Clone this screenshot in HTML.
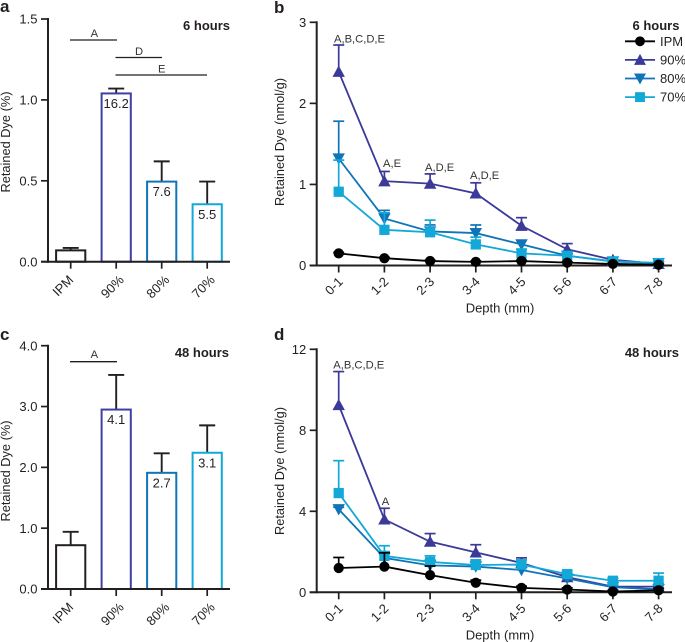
<!DOCTYPE html>
<html>
<head>
<meta charset="utf-8">
<style>
html,body{margin:0;padding:0;background:#fff;width:685px;height:642px;overflow:hidden}
svg{display:block;font-family:"Liberation Sans",Arial,sans-serif;fill:#231f20;filter:blur(0.3px)}
text{fill:#231f20}
.t{font-size:13px}
.a{font-size:12.8px}
.x{font-size:13px}
.n{font-size:11.2px;fill:#333}
.p{font-size:17px;font-weight:bold}
.h{font-size:13px;font-weight:bold}
</style>
</head>
<body>
<svg id="fig" width="685" height="642" viewBox="0 0 685 642" xmlns="http://www.w3.org/2000/svg">
  <text class="p" x="0" y="12">a</text>
  <text class="p" x="274" y="13">b</text>
  <text class="p" x="0" y="340">c</text>
  <text class="p" x="274" y="340">d</text>

  <text class="h" x="230" y="30" text-anchor="end">6 hours</text>
  <text class="h" x="229" y="357" text-anchor="end">48 hours</text>
  <text class="h" x="679" y="357" text-anchor="end">48 hours</text>

  <g stroke="#231f20" stroke-width="1.3">
    <line x1="70" x2="117" y1="40" y2="40"/>
    <line x1="115.5" x2="162" y1="57.5" y2="57.5"/>
    <line x1="115.5" x2="207" y1="75" y2="75"/>
  </g>
  <text class="n" x="94.3" y="37" text-anchor="middle">A</text>
  <text class="n" x="139" y="55" text-anchor="middle">D</text>
  <text class="n" x="161.7" y="72.5" text-anchor="middle">E</text>

  <line x1="70" x2="117" y1="361.7" y2="361.7" stroke="#231f20" stroke-width="1.3"/>
  <text class="n" x="94.3" y="358" text-anchor="middle">A</text>

  <text class="n" x="334" y="42.5">A,B,C,D,E</text>
  <text class="n" x="383" y="167">A,E</text>
  <text class="n" x="425" y="171">A,D,E</text>
  <text class="n" x="470" y="179">A,D,E</text>
  <text class="n" x="333.3" y="368.5">A,B,C,D,E</text>
  <text class="n" x="381.7" y="505">A</text>

  <g>
    <text class="h" x="656" y="30" text-anchor="middle">6 hours</text>
    <g id="legend-items"></g>
  </g>
</svg>
<script>
// Shared categories
const barCategories = ['IPM', '90%', '80%', '70%'];
const depthCategories = ['0-1', '1-2', '2-3', '3-4', '4-5', '5-6', '6-7', '7-8'];
const seriesNames = ['IPM', '90%', '80%', '70%'];

// Panel a values
const aMeans = [0.07, 1.04, 0.495, 0.355];
const aErrTops = [0.085, 1.07, 0.62, 0.495];
const aBarLabels = ['', '16.2', '7.6', '5.5'];
const aTicks = ['0.0', '0.5', '1.0', '1.5'];

// Panel c values
const cMeans = [0.72, 2.95, 1.91, 2.24];
const cErrTops = [0.94, 3.52, 2.23, 2.69];
const cBarLabels = ['', '4.1', '2.7', '3.1'];
const cTicks = ['0.0', '1.0', '2.0', '3.0', '4.0'];

// Panel b values
const bIPM = [0.15, 0.09, 0.055, 0.045, 0.055, 0.035, 0.02, 0.01];
const bIPMTop = [0.16, 0.1, 0.065, 0.055, 0.065, 0.045, 0.03, 0.02];
const b90 = [2.39, 1.04, 1.01, 0.89, 0.49, 0.2, 0.07, 0.02];
const b90Top = [2.72, 1.16, 1.13, 1.02, 0.59, 0.27, 0.1, 0.04];
const b80 = [1.32, 0.58, 0.42, 0.4, 0.26, 0.12, 0.05, 0.03];
const b80Top = [1.78, 0.68, 0.5, 0.5, 0.31, 0.14, 0.07, 0.05];
const b70 = [0.91, 0.44, 0.41, 0.26, 0.15, 0.12, 0.05, 0.03];
const b70Top = [1.3, 0.65, 0.56, 0.35, 0.2, 0.15, 0.07, 0.06];
const bTicks = ['0', '1', '2', '3'];

// Panel d values
const dIPM = [1.2, 1.27, 0.85, 0.47, 0.22, 0.14, 0.04, 0.1];
const dIPMTop = [1.72, 1.95, 1.3, 0.6, 0.3, 0.22, 0.1, 0.2];
const d90 = [9.25, 3.6, 2.5, 1.97, 1.45, 0.75, 0.28, 0.28];
const d90Top = [10.9, 4.15, 2.9, 2.35, 1.7, 0.9, 0.35, 0.4];
const d80 = [4.1, 1.7, 1.33, 1.27, 1.1, 0.68, 0.25, 0.15];
const d80Top = [4.2, 2.0, 1.6, 1.5, 1.3, 0.8, 0.3, 0.2];
const d70 = [4.9, 1.8, 1.5, 1.35, 1.37, 0.9, 0.57, 0.57];
const d70Top = [6.5, 2.3, 1.8, 1.6, 1.6, 1.05, 0.7, 0.95];
const dTicks = ['0', '4', '8', '12'];

const INK = '#231f20';
const COLORS = {'IPM': '#000000', '90%': '#3b3a98', '80%': '#0f75b8', '70%': '#12a8d8'};
const BAR_COLORS = {'IPM': '#231f20', '90%': '#3f3fa5', '80%': '#0f75b8', '70%': '#12a8d8'};
const svg = document.getElementById('fig');
const NS = 'http://www.w3.org/2000/svg';

function mk(tag, parent, attrs, text) {
  const el = document.createElementNS(NS, tag);
  for (const k in attrs) el.setAttribute(k, attrs[k]);
  if (text !== undefined) el.textContent = text;
  parent.appendChild(el);
  return el;
}

function drawAxes(g, o) {
  const yl = mk('line', g, {x1: o.x0, x2: o.x0, y1: o.yScale(o.yMax) - 1, y2: o.y0 + 1, stroke: INK, 'stroke-width': 2});
  
  
  const xl = mk('line', g, {x1: o.x0 - 7, x2: o.xEnd, y1: o.y0, y2: o.y0, stroke: INK, 'stroke-width': 2});
  
  

  o.ticks.forEach(function (t) {
    const y = o.yScale(parseFloat(t));
    const tk = mk('line', g, {x1: o.x0 - 7, x2: o.x0, y1: y, y2: y, stroke: INK, 'stroke-width': 1.7});
    
    
    const lb = mk('text', g, {x: o.x0 - 10.5, y: y + 4.6, 'text-anchor': 'end', 'class': 't'}, t);
    
    
  });

  o.cats.forEach(function (c, i) {
    const x = o.xScale(i);
    const tk = mk('line', g, {x1: x, x2: x, y1: o.y0, y2: o.y0 + 7, stroke: INK, 'stroke-width': 1.7});
    
    
    const lx = x + (c === 'IPM' ? 3.5 : o.labelDx), ly = o.y0 + o.labelDy;
    const lb = mk('text', g, {x: lx, y: ly, 'text-anchor': 'end', 'class': 't', transform: 'rotate(-45 ' + lx + ' ' + ly + ')'}, c);
    
    
  });

  const ty = mk('text', g, {x: 0, y: 0, 'text-anchor': 'middle', 'class': 'a', transform: 'translate(' + o.titleX + ' ' + o.titleY + ') rotate(-90)'}, o.yTitle);
  
  
  if (o.xTitle) {
    const tx = mk('text', g, {x: o.xTitleX, y: o.y0 + 47, 'text-anchor': 'middle', 'class': 'x'}, o.xTitle);
    
    
  }
}

function barPanel(name, means, tops, labels, ticks, yMax, y0, yTop, yTitle, titleY) {
  const g = mk('g', svg, {});
  
  
  const yScale = function (v) { return y0 - (y0 - yTop) * v / yMax; };
  const xScale = function (i) { return 70.7 + i * 45.5; };
  barCategories.forEach(function (c, i) {
    const x = xScale(i), top = yScale(means[i]), et = yScale(tops[i]);
    const e1 = mk('line', g, {x1: x, x2: x, y1: et, y2: top, stroke: INK, 'stroke-width': 1.9});
    
    
    const e2 = mk('line', g, {x1: x - 8, x2: x + 8, y1: et, y2: et, stroke: INK, 'stroke-width': 1.9});
    
    
    const r = mk('rect', g, {x: x - 14.6, y: top, width: 29.2, height: y0 - top, fill: '#fff', stroke: BAR_COLORS[c], 'stroke-width': 2});
    
    
    if (labels[i]) {
      const t = mk('text', g, {x: x, y: top + 14.5, 'text-anchor': 'middle', 'class': 't'}, labels[i]);
      
      
    }
  });
  drawAxes(g, {x0: 48, y0: y0, xEnd: 230, yMax: yMax, yScale: yScale, xScale: xScale, ticks: ticks, cats: barCategories, yTitle: yTitle, titleX: 10, titleY: titleY, labelDx: 8.5, labelDy: 19});
}

function marker(parent, kind, x, y, color, s) {
  let el;
  if (kind === 'IPM') {
    el = mk('circle', parent, {cx: x, cy: y, r: s * 0.95, fill: color});
  } else if (kind === '90%') {
    el = mk('polygon', parent, {points: (x - s * 1.15) + ',' + (y + s * 0.95) + ' ' + (x + s * 1.15) + ',' + (y + s * 0.95) + ' ' + x + ',' + (y - s * 1.15), fill: color});
  } else if (kind === '80%') {
    el = mk('polygon', parent, {points: (x - s * 1.15) + ',' + (y - s * 0.95) + ' ' + (x + s * 1.15) + ',' + (y - s * 0.95) + ' ' + x + ',' + (y + s * 1.15), fill: color});
  } else {
    el = mk('rect', parent, {x: x - s * 0.95, y: y - s * 0.95, width: s * 1.9, height: s * 1.9, fill: color});
  }
  
  
  return el;
}

function linePanel(name, vals, tops, ticks, yMax, y0, yTop, titleY, xTitleX) {
  const g = mk('g', svg, {});
  
  
  const yScale = function (v) { return y0 - (y0 - yTop) * v / yMax; };
  const xScale = function (i) { return 338.7 + i * 45.7; };
  drawAxes(g, {x0: 316.7, y0: y0, xEnd: 672, yMax: yMax, yScale: yScale, xScale: xScale, ticks: ticks, cats: depthCategories, yTitle: 'Retained Dye (nmol/g)', titleX: 284, titleY: titleY, xTitle: 'Depth (mm)', xTitleX: xTitleX, labelDx: 5, labelDy: 17});
  ['90%', '80%', '70%', 'IPM'].forEach(function (s) {
    const idx = seriesNames.indexOf(s);
    const sg = mk('g', g, {});
    
    
    const color = COLORS[s];
    vals[idx].forEach(function (v, i) {
      const x = xScale(i), et = yScale(tops[idx][i]);
      const e1 = mk('line', sg, {x1: x, x2: x, y1: et, y2: yScale(v), stroke: color, 'stroke-width': 1.7});
      
      
      const e2 = mk('line', sg, {x1: x - 5.5, x2: x + 5.5, y1: et, y2: et, stroke: color, 'stroke-width': 1.7});
      
      
    });
    const pts = vals[idx].map(function (v, i) { return xScale(i) + ',' + yScale(v); }).join(' ');
    const pl = mk('polyline', sg, {points: pts, fill: 'none', stroke: color, 'stroke-width': 1.8});
    
    
    vals[idx].forEach(function (v, i) {
      marker(sg, s, xScale(i), yScale(v), color, 5.4);
    });
  });
}

barPanel('panel-a-bar-chart', aMeans, aErrTops, aBarLabels, aTicks, 1.5, 261.7, 19, 'Retained Dye (%)', 142);
barPanel('panel-c-bar-chart', cMeans, cErrTops, cBarLabels, cTicks, 4, 589, 345.7, 'Retained Dye (%)', 471);
linePanel('panel-b-line-chart', [bIPM, b90, b80, b70], [bIPMTop, b90Top, b80Top, b70Top], bTicks, 3, 265.5, 22.3, 142, 500);
linePanel('panel-d-line-chart', [dIPM, d90, d80, d70], [dIPMTop, d90Top, d80Top, d70Top], dTicks, 12, 592.3, 349.3, 471, 500);

const legendRoot = document.getElementById('legend-items');
seriesNames.forEach(function (s, i) {
  const y = 41.3 + i * 18.6;
  const row = mk('g', legendRoot, {});
  
  
  const ln = mk('line', row, {x1: 625, x2: 655, y1: y, y2: y, stroke: COLORS[s], 'stroke-width': 1.8});
  
  
  marker(row, s, 640, y, COLORS[s], 5.2);
  const t = mk('text', row, {x: 660, y: y + 4.6, 'class': 't'}, s);
  
  
});
</script>
</body>
</html>
